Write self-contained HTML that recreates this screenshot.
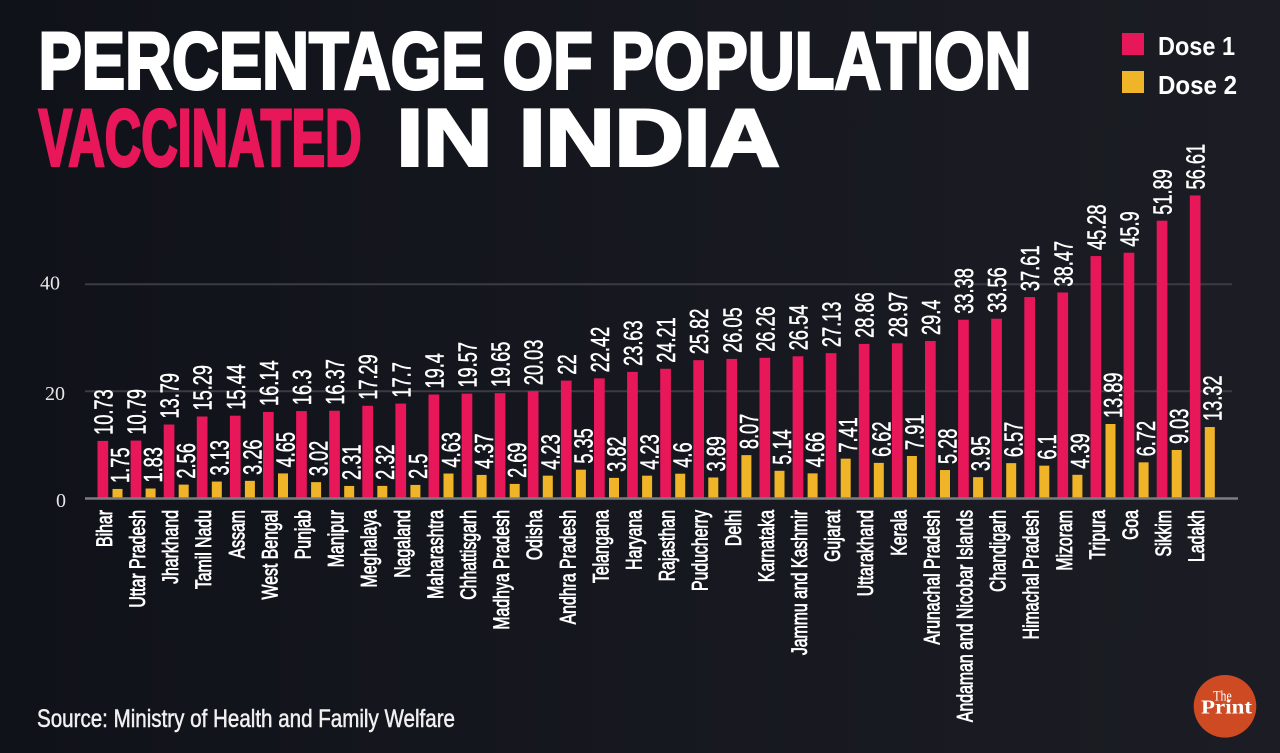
<!DOCTYPE html>
<html><head><meta charset="utf-8">
<style>
html,body{margin:0;padding:0;background:#14161d;}
svg{display:block;}
.v{font-family:"Liberation Sans",sans-serif;font-size:26px;fill:#fff;stroke:#fff;stroke-width:0.5;}
.xl{font-family:"Liberation Sans",sans-serif;font-size:22px;fill:#fff;stroke:#fff;stroke-width:0.8;text-anchor:end;}
.yl{font-family:"Liberation Serif",serif;font-size:20px;fill:#e6e6e6;}
.t{font-family:"Liberation Sans",sans-serif;font-weight:bold;font-size:81px;stroke-width:3;stroke-linejoin:miter;}
</style></head>
<body>
<svg width="1280" height="753" viewBox="0 0 1280 753" xmlns="http://www.w3.org/2000/svg">
<defs>
<linearGradient id="bg" x1="0" y1="0" x2="1" y2="0">
<stop offset="0" stop-color="#10121a"/>
<stop offset="1" stop-color="#1c1d24"/>
</linearGradient>
</defs>
<rect x="0" y="0" width="1280" height="753" fill="url(#bg)"/>

<!-- Title -->
<text class="t" x="38.5" y="88.5" fill="#fff" stroke="#fff" textLength="993" lengthAdjust="spacingAndGlyphs">PERCENTAGE OF POPULATION</text>
<text class="t" x="38.5" y="165.5" fill="#e8175a" stroke="#e8175a" textLength="323" lengthAdjust="spacingAndGlyphs">VACCINATED</text>
<text class="t" x="396.5" y="165.5" fill="#fff" stroke="#fff" textLength="383" lengthAdjust="spacingAndGlyphs">IN INDIA</text>

<!-- Legend -->
<rect x="1122" y="33" width="22" height="22" fill="#e8175a"/>
<rect x="1122" y="71" width="22" height="22" fill="#f0b429"/>
<text x="1158" y="55" font-family="Liberation Sans, sans-serif" font-weight="bold" font-size="26" fill="#fff" textLength="77" lengthAdjust="spacingAndGlyphs">Dose 1</text>
<text x="1158" y="94" font-family="Liberation Sans, sans-serif" font-weight="bold" font-size="26" fill="#fff" textLength="79" lengthAdjust="spacingAndGlyphs">Dose 2</text>

<!-- Grid -->
<line x1="85" y1="284.3" x2="1232" y2="284.3" stroke="#3a3b43" stroke-width="2"/>
<line x1="85" y1="391.3" x2="1232" y2="391.3" stroke="#3a3b43" stroke-width="2"/>
<text class="yl" x="40" y="289.5">40</text>
<text class="yl" x="45" y="400">20</text>
<text class="yl" x="56" y="507">0</text>

<!-- Groups -->
<g transform="translate(0,0)">
<rect x="97.5" y="440.89" width="10.7" height="57.41" fill="#e8175a"/>
<rect x="112.5" y="488.94" width="10" height="9.36" fill="#f0b429"/>
<text class="v" transform="translate(112.4,434.89) rotate(-90) scale(0.7,1)">10.73</text>
<text class="v" transform="translate(129,482.94) rotate(-90) scale(0.7,1)">1.75</text>
<text class="xl" transform="translate(111.9,510) rotate(-90) scale(0.72,1)">Bihar</text>
</g>
<g transform="translate(33.1,0)">
<rect x="97.5" y="440.57" width="10.7" height="57.73" fill="#e8175a"/>
<rect x="112.5" y="488.51" width="10" height="9.79" fill="#f0b429"/>
<text class="v" transform="translate(112.4,434.57) rotate(-90) scale(0.7,1)">10.79</text>
<text class="v" transform="translate(129,482.51) rotate(-90) scale(0.7,1)">1.83</text>
<text class="xl" transform="translate(111.9,510) rotate(-90) scale(0.72,1)">Uttar Pradesh</text>
</g>
<g transform="translate(66.2,0)">
<rect x="97.5" y="424.52" width="10.7" height="73.78" fill="#e8175a"/>
<rect x="112.5" y="484.60" width="10" height="13.70" fill="#f0b429"/>
<text class="v" transform="translate(112.4,418.52) rotate(-90) scale(0.7,1)">13.79</text>
<text class="v" transform="translate(129,478.60) rotate(-90) scale(0.7,1)">2.56</text>
<text class="xl" transform="translate(111.9,510) rotate(-90) scale(0.72,1)">Jharkhand</text>
</g>
<g transform="translate(99.3,0)">
<rect x="97.5" y="416.50" width="10.7" height="81.80" fill="#e8175a"/>
<rect x="112.5" y="481.55" width="10" height="16.75" fill="#f0b429"/>
<text class="v" transform="translate(112.4,410.50) rotate(-90) scale(0.7,1)">15.29</text>
<text class="v" transform="translate(129,475.55) rotate(-90) scale(0.7,1)">3.13</text>
<text class="xl" transform="translate(111.9,510) rotate(-90) scale(0.72,1)">Tamil Nadu</text>
</g>
<g transform="translate(132.4,0)">
<rect x="97.5" y="415.70" width="10.7" height="82.60" fill="#e8175a"/>
<rect x="112.5" y="480.86" width="10" height="17.44" fill="#f0b429"/>
<text class="v" transform="translate(112.4,409.70) rotate(-90) scale(0.7,1)">15.44</text>
<text class="v" transform="translate(129,474.86) rotate(-90) scale(0.7,1)">3.26</text>
<text class="xl" transform="translate(111.9,510) rotate(-90) scale(0.72,1)">Assam</text>
</g>
<g transform="translate(165.5,0)">
<rect x="97.5" y="411.95" width="10.7" height="86.35" fill="#e8175a"/>
<rect x="112.5" y="473.42" width="10" height="24.88" fill="#f0b429"/>
<text class="v" transform="translate(112.4,405.95) rotate(-90) scale(0.7,1)">16.14</text>
<text class="v" transform="translate(129,467.42) rotate(-90) scale(0.7,1)">4.65</text>
<text class="xl" transform="translate(111.9,510) rotate(-90) scale(0.72,1)">West Bengal</text>
</g>
<g transform="translate(198.6,0)">
<rect x="97.5" y="411.09" width="10.7" height="87.21" fill="#e8175a"/>
<rect x="112.5" y="482.14" width="10" height="16.16" fill="#f0b429"/>
<text class="v" transform="translate(112.4,405.09) rotate(-90) scale(0.7,1)">16.3</text>
<text class="v" transform="translate(129,476.14) rotate(-90) scale(0.7,1)">3.02</text>
<text class="xl" transform="translate(111.9,510) rotate(-90) scale(0.72,1)">Punjab</text>
</g>
<g transform="translate(231.7,0)">
<rect x="97.5" y="410.72" width="10.7" height="87.58" fill="#e8175a"/>
<rect x="112.5" y="485.94" width="10" height="12.36" fill="#f0b429"/>
<text class="v" transform="translate(112.4,404.72) rotate(-90) scale(0.7,1)">16.37</text>
<text class="v" transform="translate(129,479.94) rotate(-90) scale(0.7,1)">2.31</text>
<text class="xl" transform="translate(111.9,510) rotate(-90) scale(0.72,1)">Manipur</text>
</g>
<g transform="translate(264.8,0)">
<rect x="97.5" y="405.80" width="10.7" height="92.50" fill="#e8175a"/>
<rect x="112.5" y="485.89" width="10" height="12.41" fill="#f0b429"/>
<text class="v" transform="translate(112.4,399.80) rotate(-90) scale(0.7,1)">17.29</text>
<text class="v" transform="translate(129,479.89) rotate(-90) scale(0.7,1)">2.32</text>
<text class="xl" transform="translate(111.9,510) rotate(-90) scale(0.72,1)">Meghalaya</text>
</g>
<g transform="translate(297.9,0)">
<rect x="97.5" y="403.60" width="10.7" height="94.70" fill="#e8175a"/>
<rect x="112.5" y="484.92" width="10" height="13.38" fill="#f0b429"/>
<text class="v" transform="translate(112.4,397.60) rotate(-90) scale(0.7,1)">17.7</text>
<text class="v" transform="translate(129,478.92) rotate(-90) scale(0.7,1)">2.5</text>
<text class="xl" transform="translate(111.9,510) rotate(-90) scale(0.72,1)">Nagaland</text>
</g>
<g transform="translate(331,0)">
<rect x="97.5" y="394.51" width="10.7" height="103.79" fill="#e8175a"/>
<rect x="112.5" y="473.53" width="10" height="24.77" fill="#f0b429"/>
<text class="v" transform="translate(112.4,388.51) rotate(-90) scale(0.7,1)">19.4</text>
<text class="v" transform="translate(129,467.53) rotate(-90) scale(0.7,1)">4.63</text>
<text class="xl" transform="translate(111.9,510) rotate(-90) scale(0.72,1)">Maharashtra</text>
</g>
<g transform="translate(364.1,0)">
<rect x="97.5" y="393.60" width="10.7" height="104.70" fill="#e8175a"/>
<rect x="112.5" y="474.92" width="10" height="23.38" fill="#f0b429"/>
<text class="v" transform="translate(112.4,387.60) rotate(-90) scale(0.7,1)">19.57</text>
<text class="v" transform="translate(129,468.92) rotate(-90) scale(0.7,1)">4.37</text>
<text class="xl" transform="translate(111.9,510) rotate(-90) scale(0.72,1)">Chhattisgarh</text>
</g>
<g transform="translate(397.2,0)">
<rect x="97.5" y="393.17" width="10.7" height="105.13" fill="#e8175a"/>
<rect x="112.5" y="483.91" width="10" height="14.39" fill="#f0b429"/>
<text class="v" transform="translate(112.4,387.17) rotate(-90) scale(0.7,1)">19.65</text>
<text class="v" transform="translate(129,477.91) rotate(-90) scale(0.7,1)">2.69</text>
<text class="xl" transform="translate(111.9,510) rotate(-90) scale(0.72,1)">Madhya Pradesh</text>
</g>
<g transform="translate(430.3,0)">
<rect x="97.5" y="391.14" width="10.7" height="107.16" fill="#e8175a"/>
<rect x="112.5" y="475.67" width="10" height="22.63" fill="#f0b429"/>
<text class="v" transform="translate(112.4,385.14) rotate(-90) scale(0.7,1)">20.03</text>
<text class="v" transform="translate(129,469.67) rotate(-90) scale(0.7,1)">4.23</text>
<text class="xl" transform="translate(111.9,510) rotate(-90) scale(0.72,1)">Odisha</text>
</g>
<g transform="translate(463.4,0)">
<rect x="97.5" y="380.60" width="10.7" height="117.70" fill="#e8175a"/>
<rect x="112.5" y="469.68" width="10" height="28.62" fill="#f0b429"/>
<text class="v" transform="translate(112.4,374.60) rotate(-90) scale(0.7,1)">22</text>
<text class="v" transform="translate(129,463.68) rotate(-90) scale(0.7,1)">5.35</text>
<text class="xl" transform="translate(111.9,510) rotate(-90) scale(0.72,1)">Andhra Pradesh</text>
</g>
<g transform="translate(496.5,0)">
<rect x="97.5" y="378.35" width="10.7" height="119.95" fill="#e8175a"/>
<rect x="112.5" y="477.86" width="10" height="20.44" fill="#f0b429"/>
<text class="v" transform="translate(112.4,372.35) rotate(-90) scale(0.7,1)">22.42</text>
<text class="v" transform="translate(129,471.86) rotate(-90) scale(0.7,1)">3.82</text>
<text class="xl" transform="translate(111.9,510) rotate(-90) scale(0.72,1)">Telangana</text>
</g>
<g transform="translate(529.6,0)">
<rect x="97.5" y="371.88" width="10.7" height="126.42" fill="#e8175a"/>
<rect x="112.5" y="475.67" width="10" height="22.63" fill="#f0b429"/>
<text class="v" transform="translate(112.4,365.88) rotate(-90) scale(0.7,1)">23.63</text>
<text class="v" transform="translate(129,469.67) rotate(-90) scale(0.7,1)">4.23</text>
<text class="xl" transform="translate(111.9,510) rotate(-90) scale(0.72,1)">Haryana</text>
</g>
<g transform="translate(562.7,0)">
<rect x="97.5" y="368.78" width="10.7" height="129.52" fill="#e8175a"/>
<rect x="112.5" y="473.69" width="10" height="24.61" fill="#f0b429"/>
<text class="v" transform="translate(112.4,362.78) rotate(-90) scale(0.7,1)">24.21</text>
<text class="v" transform="translate(129,467.69) rotate(-90) scale(0.7,1)">4.6</text>
<text class="xl" transform="translate(111.9,510) rotate(-90) scale(0.72,1)">Rajasthan</text>
</g>
<g transform="translate(595.8,0)">
<rect x="97.5" y="360.16" width="10.7" height="138.14" fill="#e8175a"/>
<rect x="112.5" y="477.49" width="10" height="20.81" fill="#f0b429"/>
<text class="v" transform="translate(112.4,354.16) rotate(-90) scale(0.7,1)">25.82</text>
<text class="v" transform="translate(129,471.49) rotate(-90) scale(0.7,1)">3.89</text>
<text class="xl" transform="translate(111.9,510) rotate(-90) scale(0.72,1)">Puducherry</text>
</g>
<g transform="translate(628.9,0)">
<rect x="97.5" y="358.93" width="10.7" height="139.37" fill="#e8175a"/>
<rect x="112.5" y="455.13" width="10" height="43.17" fill="#f0b429"/>
<text class="v" transform="translate(112.4,352.93) rotate(-90) scale(0.7,1)">26.05</text>
<text class="v" transform="translate(129,449.13) rotate(-90) scale(0.7,1)">8.07</text>
<text class="xl" transform="translate(111.9,510) rotate(-90) scale(0.72,1)">Delhi</text>
</g>
<g transform="translate(662,0)">
<rect x="97.5" y="357.81" width="10.7" height="140.49" fill="#e8175a"/>
<rect x="112.5" y="470.80" width="10" height="27.50" fill="#f0b429"/>
<text class="v" transform="translate(112.4,351.81) rotate(-90) scale(0.7,1)">26.26</text>
<text class="v" transform="translate(129,464.80) rotate(-90) scale(0.7,1)">5.14</text>
<text class="xl" transform="translate(111.9,510) rotate(-90) scale(0.72,1)">Karnataka</text>
</g>
<g transform="translate(695.1,0)">
<rect x="97.5" y="356.31" width="10.7" height="141.99" fill="#e8175a"/>
<rect x="112.5" y="473.37" width="10" height="24.93" fill="#f0b429"/>
<text class="v" transform="translate(112.4,350.31) rotate(-90) scale(0.7,1)">26.54</text>
<text class="v" transform="translate(129,467.37) rotate(-90) scale(0.7,1)">4.66</text>
<text class="xl" transform="translate(111.9,510) rotate(-90) scale(0.72,1)">Jammu and Kashmir</text>
</g>
<g transform="translate(728.2,0)">
<rect x="97.5" y="353.15" width="10.7" height="145.15" fill="#e8175a"/>
<rect x="112.5" y="458.66" width="10" height="39.64" fill="#f0b429"/>
<text class="v" transform="translate(112.4,347.15) rotate(-90) scale(0.7,1)">27.13</text>
<text class="v" transform="translate(129,452.66) rotate(-90) scale(0.7,1)">7.41</text>
<text class="xl" transform="translate(111.9,510) rotate(-90) scale(0.72,1)">Gujarat</text>
</g>
<g transform="translate(761.3,0)">
<rect x="97.5" y="343.90" width="10.7" height="154.40" fill="#e8175a"/>
<rect x="112.5" y="462.88" width="10" height="35.42" fill="#f0b429"/>
<text class="v" transform="translate(112.4,337.90) rotate(-90) scale(0.7,1)">28.86</text>
<text class="v" transform="translate(129,456.88) rotate(-90) scale(0.7,1)">6.62</text>
<text class="xl" transform="translate(111.9,510) rotate(-90) scale(0.72,1)">Uttarakhand</text>
</g>
<g transform="translate(794.4,0)">
<rect x="97.5" y="343.31" width="10.7" height="154.99" fill="#e8175a"/>
<rect x="112.5" y="455.98" width="10" height="42.32" fill="#f0b429"/>
<text class="v" transform="translate(112.4,337.31) rotate(-90) scale(0.7,1)">28.97</text>
<text class="v" transform="translate(129,449.98) rotate(-90) scale(0.7,1)">7.91</text>
<text class="xl" transform="translate(111.9,510) rotate(-90) scale(0.72,1)">Kerala</text>
</g>
<g transform="translate(827.5,0)">
<rect x="97.5" y="341.01" width="10.7" height="157.29" fill="#e8175a"/>
<rect x="112.5" y="470.05" width="10" height="28.25" fill="#f0b429"/>
<text class="v" transform="translate(112.4,335.01) rotate(-90) scale(0.7,1)">29.4</text>
<text class="v" transform="translate(129,464.05) rotate(-90) scale(0.7,1)">5.28</text>
<text class="xl" transform="translate(111.9,510) rotate(-90) scale(0.72,1)">Arunachal Pradesh</text>
</g>
<g transform="translate(860.6,0)">
<rect x="97.5" y="319.72" width="10.7" height="178.58" fill="#e8175a"/>
<rect x="112.5" y="477.17" width="10" height="21.13" fill="#f0b429"/>
<text class="v" transform="translate(112.4,313.72) rotate(-90) scale(0.7,1)">33.38</text>
<text class="v" transform="translate(129,471.17) rotate(-90) scale(0.7,1)">3.95</text>
<text class="xl" transform="translate(111.9,510) rotate(-90) scale(0.72,1)">Andaman and Nicobar  Islands</text>
</g>
<g transform="translate(893.7,0)">
<rect x="97.5" y="318.75" width="10.7" height="179.55" fill="#e8175a"/>
<rect x="112.5" y="463.15" width="10" height="35.15" fill="#f0b429"/>
<text class="v" transform="translate(112.4,312.75) rotate(-90) scale(0.7,1)">33.56</text>
<text class="v" transform="translate(129,457.15) rotate(-90) scale(0.7,1)">6.57</text>
<text class="xl" transform="translate(111.9,510) rotate(-90) scale(0.72,1)">Chandigarh</text>
</g>
<g transform="translate(926.8,0)">
<rect x="97.5" y="297.09" width="10.7" height="201.21" fill="#e8175a"/>
<rect x="112.5" y="465.66" width="10" height="32.64" fill="#f0b429"/>
<text class="v" transform="translate(112.4,291.09) rotate(-90) scale(0.7,1)">37.61</text>
<text class="v" transform="translate(129,459.66) rotate(-90) scale(0.7,1)">6.1</text>
<text class="xl" transform="translate(111.9,510) rotate(-90) scale(0.72,1)">Himachal Pradesh</text>
</g>
<g transform="translate(959.9,0)">
<rect x="97.5" y="292.49" width="10.7" height="205.81" fill="#e8175a"/>
<rect x="112.5" y="474.81" width="10" height="23.49" fill="#f0b429"/>
<text class="v" transform="translate(112.4,286.49) rotate(-90) scale(0.7,1)">38.47</text>
<text class="v" transform="translate(129,468.81) rotate(-90) scale(0.7,1)">4.39</text>
<text class="xl" transform="translate(111.9,510) rotate(-90) scale(0.72,1)">Mizoram</text>
</g>
<g transform="translate(993,0)">
<rect x="97.5" y="256.05" width="10.7" height="242.25" fill="#e8175a"/>
<rect x="112.5" y="423.99" width="10" height="74.31" fill="#f0b429"/>
<text class="v" transform="translate(112.4,250.05) rotate(-90) scale(0.7,1)">45.28</text>
<text class="v" transform="translate(129,417.99) rotate(-90) scale(0.7,1)">13.89</text>
<text class="xl" transform="translate(111.9,510) rotate(-90) scale(0.72,1)">Tripura</text>
</g>
<g transform="translate(1026.1,0)">
<rect x="97.5" y="252.73" width="10.7" height="245.57" fill="#e8175a"/>
<rect x="112.5" y="462.35" width="10" height="35.95" fill="#f0b429"/>
<text class="v" transform="translate(112.4,246.73) rotate(-90) scale(0.7,1)">45.9</text>
<text class="v" transform="translate(129,456.35) rotate(-90) scale(0.7,1)">6.72</text>
<text class="xl" transform="translate(111.9,510) rotate(-90) scale(0.72,1)">Goa</text>
</g>
<g transform="translate(1059.2,0)">
<rect x="97.5" y="220.69" width="10.7" height="277.61" fill="#e8175a"/>
<rect x="112.5" y="449.99" width="10" height="48.31" fill="#f0b429"/>
<text class="v" transform="translate(112.4,214.69) rotate(-90) scale(0.7,1)">51.89</text>
<text class="v" transform="translate(129,443.99) rotate(-90) scale(0.7,1)">9.03</text>
<text class="xl" transform="translate(111.9,510) rotate(-90) scale(0.72,1)">Sikkim</text>
</g>
<g transform="translate(1092.3,0)">
<rect x="97.5" y="195.44" width="10.7" height="302.86" fill="#e8175a"/>
<rect x="112.5" y="427.04" width="10" height="71.26" fill="#f0b429"/>
<text class="v" transform="translate(112.4,189.44) rotate(-90) scale(0.7,1)">56.61</text>
<text class="v" transform="translate(129,421.04) rotate(-90) scale(0.7,1)">13.32</text>
<text class="xl" transform="translate(111.9,510) rotate(-90) scale(0.72,1)">Ladakh</text>
</g>

<!-- Axis -->
<line x1="85" y1="498.5" x2="1238" y2="498.5" stroke="#7c7c80" stroke-width="2.5"/>

<!-- Source -->
<text x="37" y="727" font-family="Liberation Sans, sans-serif" font-size="25" fill="#f0f0f0" stroke="#f0f0f0" stroke-width="0.5" textLength="418" lengthAdjust="spacingAndGlyphs">Source: Ministry of Health and Family Welfare</text>

<!-- Logo -->
<circle cx="1225" cy="706.3" r="31.3" fill="#cd4a22"/>
<text x="1213.3" y="700.7" font-family="Liberation Serif, serif" font-size="15" fill="#fff" textLength="18.4" lengthAdjust="spacingAndGlyphs">The</text>
<text x="1201" y="713.3" font-family="Liberation Serif, serif" font-weight="bold" font-size="20" fill="#fff" textLength="51" lengthAdjust="spacingAndGlyphs">Print</text>
</svg>
</body></html>
